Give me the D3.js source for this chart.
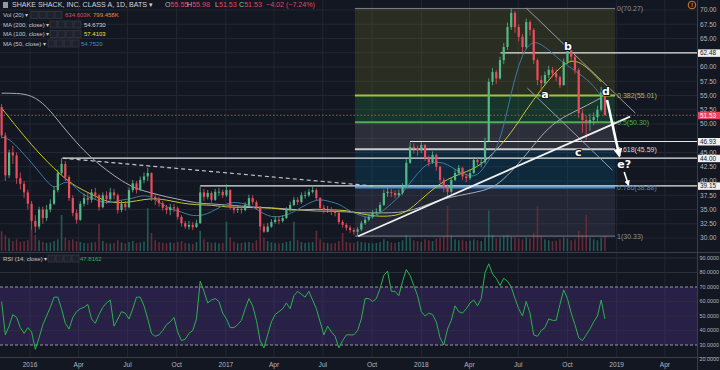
<!DOCTYPE html>
<html>
<head>
<meta charset="utf-8">
<script src="https://cdn.jsdelivr.net/npm/d3@7"></script>
<style>
  body { margin: 0; background: #131722; }
  svg { display: block; font-family: "Liberation Sans", Arial, sans-serif; }
</style>
</head>
<body>
<svg id="chart" width="720" height="370"></svg>
<script>
// weekly candles (open = previous close)
var firstWeek = new Date(2015, 10, 9);
var firstOpen = 53.0;
var closes = [
  48.0, 41.0, 45.0, 44.5, 40.5, 39.5, 38.0, 36.0, 33.0, 32.0,
  35.0, 33.5, 35.0, 36.0, 38.4, 41.4, 43.0, 40.7, 37.0, 34.4,
  33.2, 36.0, 37.0, 36.7, 38.0, 37.5, 35.4, 37.5, 36.8, 38.0,
  37.5, 34.9, 36.0, 35.4, 38.4, 39.6, 38.4, 40.2, 40.8, 41.4,
  37.2, 36.7, 36.1, 35.3, 34.9, 35.4, 35.2, 33.7, 32.6, 32.0,
  32.3, 31.9, 32.6, 38.0, 37.2, 37.9, 36.7, 38.1, 38.1, 37.5,
  38.4, 35.4, 34.9, 35.1, 34.9, 35.8, 37.0, 36.3, 35.5, 32.0,
  31.1, 32.0, 32.8, 33.2, 33.0, 33.5, 34.9, 35.8, 36.7, 36.3,
  37.5, 37.5, 38.1, 38.4, 37.0, 35.3, 34.9, 35.1, 34.6, 34.4,
  32.8, 32.3, 31.8, 31.4, 31.1, 31.5, 32.6, 33.2, 33.7, 34.4,
  34.6, 35.8, 37.9, 38.1, 37.9, 37.5, 37.9, 39.0, 43.2, 46.0,
  45.8, 45.4, 46.3, 44.0, 43.3, 44.6, 42.5, 40.2, 38.8, 38.1,
  40.2, 41.4, 42.3, 40.8, 40.5, 41.4, 43.7, 43.3, 43.3, 47.0,
  57.4, 59.1, 58.0, 61.2, 63.5, 67.0, 69.5, 67.0, 65.3, 63.5,
  67.9, 66.5, 61.2, 57.7, 57.2, 58.6, 59.5, 58.9, 58.2, 56.8,
  60.9, 63.0, 61.8, 59.5, 51.9, 50.7, 50.2, 50.7, 51.2, 52.5,
  55.55, 51.53
];
var highs = [
  53.5, 48.5, 45.5, 46.2, 45.0, 41.5, 40.0, 38.5, 36.5, 34.0,
  35.5, 35.5, 35.8, 36.8, 39.0, 42.0, 44.0, 43.5, 41.0, 37.5,
  35.0, 36.5, 37.8, 38.0, 38.6, 38.8, 37.8, 38.0, 38.2, 38.8,
  38.6, 37.8, 36.6, 36.5, 38.9, 40.2, 40.0, 40.8, 41.5, 42.3,
  41.5, 37.8, 37.2, 36.5, 35.8, 36.0, 36.0, 35.5, 34.0, 33.0,
  33.0, 32.8, 33.2, 39.0, 38.6, 38.4, 38.2, 38.6, 38.8, 38.5,
  39.4, 38.6, 35.8, 35.7, 35.6, 36.3, 37.6, 37.5, 36.6, 35.6,
  32.5, 32.6, 33.3, 33.8, 33.8, 34.0, 35.4, 36.4, 37.2, 37.2,
  38.0, 38.2, 38.6, 39.3, 38.7, 37.2, 35.8, 35.6, 35.4, 35.0,
  34.6, 33.2, 32.6, 32.2, 31.8, 31.9, 33.0, 33.7, 34.2, 34.9,
  35.2, 36.3, 38.5, 38.8, 38.6, 38.4, 38.5, 39.6, 43.8, 46.8,
  46.6, 46.2, 46.8, 46.5, 44.5, 45.2, 44.8, 42.7, 40.6, 39.4,
  40.7, 42.0, 42.8, 42.5, 41.3, 42.0, 44.2, 44.2, 44.0, 47.6,
  58.0, 59.8, 59.5, 61.8, 64.2, 67.8, 70.27, 69.8, 67.5, 65.8,
  68.5, 68.2, 66.8, 61.5, 58.5, 59.2, 60.2, 60.0, 59.6, 58.5,
  61.5, 63.9, 63.4, 62.2, 59.8, 52.6, 51.5, 51.8, 52.0, 53.2,
  56.5, 55.98
];
var lows = [
  47.5, 40.0, 40.5, 43.0, 39.5, 38.5, 37.0, 35.0, 31.5, 30.9,
  31.5, 32.5, 33.0, 34.5, 35.8, 38.0, 41.0, 40.0, 36.5, 33.8,
  32.5, 33.0, 35.5, 35.8, 36.2, 36.8, 34.8, 35.2, 36.0, 36.5,
  36.8, 34.3, 34.5, 34.8, 35.2, 38.0, 37.8, 38.2, 39.6, 40.0,
  36.5, 35.8, 35.5, 34.8, 34.2, 34.0, 34.5, 33.2, 32.0, 31.6,
  31.5, 31.4, 31.8, 32.5, 36.5, 36.8, 36.2, 36.5, 37.4, 37.0,
  37.2, 35.0, 34.3, 34.4, 34.3, 34.7, 35.6, 35.8, 35.0, 31.5,
  30.9, 31.0, 31.8, 32.5, 32.4, 32.7, 33.3, 34.6, 35.6, 35.8,
  36.0, 36.9, 37.2, 37.8, 36.6, 34.8, 34.3, 34.4, 34.0, 33.8,
  32.4, 31.8, 31.3, 30.9, 30.6, 30.3, 31.2, 32.3, 32.9, 33.4,
  34.0, 34.4, 35.6, 37.2, 37.2, 37.0, 37.1, 37.6, 38.8, 43.0,
  44.8, 44.4, 44.9, 43.5, 42.6, 43.0, 41.8, 39.6, 38.0, 37.0,
  37.8, 40.0, 41.0, 40.2, 39.8, 40.2, 41.2, 42.7, 42.4, 43.0,
  52.8, 56.8, 57.0, 57.8, 60.5, 63.0, 66.5, 66.0, 64.5, 62.5,
  63.2, 65.5, 60.5, 56.8, 55.6, 56.8, 58.0, 58.2, 57.5, 56.3,
  56.8, 60.5, 61.0, 58.8, 51.0, 48.5, 47.2, 48.8, 49.8, 50.4,
  52.2, 51.53
];
// relative weekly volume
var volumes = [
  4.4, 3.5, 2.8, 2.2, 2.6, 2.0, 2.2, 2.4, 5.0, 3.6,
  2.4, 2.0, 1.8, 1.9, 2.2, 2.6, 8.0, 3.0, 2.4, 2.6,
  2.2, 2.0, 1.8, 1.7, 1.9, 2.0, 6.0, 2.2, 1.8, 1.7,
  1.8, 2.4, 1.9, 1.7, 2.0, 2.2, 1.8, 1.9, 2.1, 9.5,
  4.0, 2.4, 2.0, 1.8, 1.7, 1.9, 1.8, 2.0, 2.2, 1.8,
  1.7, 1.6, 2.0, 4.5, 2.6, 2.0, 1.8, 1.9, 1.7, 1.8,
  6.5, 3.0, 2.0, 1.7, 1.8, 1.9, 2.0, 1.8, 2.4, 5.0,
  3.0, 2.2, 1.9, 1.8, 1.7, 1.8, 2.0, 2.2, 6.5, 2.4,
  2.0, 1.8, 1.9, 2.0, 4.5, 2.6, 1.9, 1.8, 1.7, 1.8,
  2.2, 4.0, 2.0, 1.9, 1.8, 2.2, 2.0, 1.9, 1.8, 1.7,
  1.8, 2.0, 2.6, 2.2, 1.9, 1.8, 2.0, 2.4, 3.6, 3.0,
  2.4, 2.2, 2.0, 2.6, 2.4, 2.2, 2.8, 3.0, 3.2, 10.0,
  3.4, 2.6, 2.4, 2.5, 2.2, 2.3, 2.6, 2.4, 2.2, 3.0,
  9.0, 3.6, 2.8, 3.0, 3.4, 3.6, 3.2, 3.0, 2.8, 2.6,
  3.0, 2.8, 4.0, 10.0, 3.4, 2.6, 2.4, 2.2, 2.3, 2.6,
  3.0, 2.8, 2.4, 2.6, 4.5, 3.6, 8.0, 3.0, 2.6, 2.4,
  3.0, 3.4
];
var rsiValues = [
  60, 37, 43, 51, 49, 42, 38, 42, 39, 27,
  35, 44, 50, 56, 63, 63, 55, 45, 41, 49,
  53, 55, 56, 58, 48, 45, 51, 56, 59, 61,
  43, 48, 53, 52, 48, 55, 63, 63, 57, 48,
  38, 36, 37, 40, 44, 46, 49, 39, 33, 34,
  38, 40, 48, 74, 67, 59, 61, 62, 60, 52,
  48, 42, 42, 44, 47, 55, 62, 57, 47, 33,
  28, 37, 46, 51, 53, 55, 59, 55, 64, 67,
  65, 63, 67, 61, 55, 46, 37, 43, 39, 36,
  28, 33, 37, 37, 37, 40, 48, 62, 62, 60,
  62, 69, 78, 81, 67, 67, 64, 74, 82, 78,
  71, 64, 53, 50, 52, 51, 46, 35, 30, 41,
  47, 57, 53, 52, 55, 59, 61, 57, 62, 80,
  86, 79, 76, 71, 76, 74, 70, 62, 55, 50,
  60, 52, 37, 36, 40, 42, 48, 47, 47, 58,
  68, 62, 52, 44, 35, 33, 37, 41, 46, 50,
  61, 48
];
// moving averages, every 4th week (200, 100) and every 2nd week (50)
var ma200 = [
  55.4, 55.4, 55.1, 53.2, 49.8, 46.7, 44.0, 41.9, 40.0, 38.6,
  37.9, 37.2, 36.7, 36.1, 36.0, 35.8, 35.6, 35.4, 35.3, 35.1,
  34.9, 34.7, 34.7, 34.6, 34.4, 34.4, 34.4, 34.6, 35.4, 36.5,
  37.2, 37.7, 38.2, 39.1, 41.6, 44.6, 48.0, 50.5, 51.9, 53.2,
  54.6
];
var ma100 = [
  52.8, 49.5, 46.3, 43.5, 40.9, 38.9, 37.7, 36.3, 36.1, 36.5,
  37.0, 36.7, 36.1, 35.8, 35.8, 35.4, 35.4, 35.3, 35.3, 34.9,
  34.9, 35.1, 34.9, 34.9, 34.2, 33.8, 33.8, 34.4, 36.8, 39.1,
  40.7, 41.6, 42.8, 45.4, 48.4, 52.5, 56.1, 59.3, 61.6, 60.2,
  57.4
];
var ma50 = [
  47.7, 47.4, 46.1, 44.7, 43.2, 41.6, 40.0, 38.6, 39.6, 40.0,
  38.6, 37.5, 37.0, 36.5, 36.1, 36.3, 36.7, 36.8, 37.2, 37.5,
  37.2, 36.3, 35.4, 34.9, 34.6, 34.0, 33.9, 34.0, 34.6, 35.3,
  36.0, 36.3, 36.1, 35.8, 35.1, 34.2, 33.7, 33.7, 34.0, 34.6,
  35.4, 36.1, 36.7, 36.7, 36.3, 36.0, 35.1, 34.4, 33.9, 33.5,
  33.9, 34.9, 36.0, 37.2, 38.8, 40.5, 42.1, 43.2, 43.3, 43.2,
  42.5, 41.6, 41.1, 40.7, 41.6, 43.7, 45.5, 49.5, 55.5, 60.5,
  63.5, 64.5, 64.0, 63.0, 61.8, 60.7, 59.8, 58.9, 57.9, 56.7,
  54.9
];

var tickDates = ["2016-01-01","2016-04-01","2016-07-01","2016-10-01","2017-01-01","2017-04-01","2017-07-01",
  "2017-10-01","2018-01-01","2018-04-01","2018-07-01","2018-10-01","2019-01-01","2019-04-01"];
var tickLabels = ["2016","Apr","Jul","Oct","2017","Apr","Jul","Oct","2018","Apr","Jul","Oct","2019","Apr"];
var priceTicks = [30,32.5,35,37.5,40,42.5,45,47.5,50,52.5,55,57.5,60,62.5,65,67.5,70];
var rsiTicks = [20,30,40,50,60,70,80,90];

var fibTop = 70.27, fibBottom = 30.33;
var fibStart = "2017-08-30", fibEnd = "2018-12-29";
var fibLevels = [0, 0.382, 0.5, 0.618, 0.786, 1];
var fibLabels = ["0(70.27)","0.382(55.01)","0.5(50.30)","0.618(45.59)","0.786(38.88)","1(30.33)"];
var fibLineColors = ["#7d808b","#a3c43a","#4caf50","#c8cad0","#3b8fd6","#7d808b"];
var fibTextColors = ["#8a8d97","#a8c43c","#4caf50","#d6d8de","#3b8fd6","#8a8d97"];
var fibFills = ["rgba(134,133,34,0.2)","rgba(39,173,79,0.2)","rgba(144,143,154,0.2)","rgba(4,108,154,0.22)","rgba(119,130,167,0.15)"];

var levelPrices = [62.48, 46.93, 44.00, 39.15];
var levelStarts = ["2018-05-29","2017-12-11","2016-03-02","2016-11-14"];
var lastPrice = 51.53;

// drawn lines [date, price] pairs
var upTrend = [["2017-09-05", 30.3], ["2019-01-26", 51.3]];
var downTrendB = [["2018-07-16", 70.35], ["2019-02-05", 51.9]];
var downTrendA = [["2018-07-18", 56.3], ["2018-12-24", 41.9]];
var dashedTrend = [["2016-03-02", 44.0], ["2017-10-07", 39.1]];
var bigArrow = [["2018-12-14", 54.2], ["2019-01-06", 44.4]];
var smallArrow = [["2019-01-15", 41.6], ["2019-01-23", 39.3]];
var waveNames = ["a","b","c","d","e?"];
var waveDates = ["2018-08-20","2018-10-02","2018-10-21","2018-12-12","2019-01-15"];
var wavePrices = [55.3, 63.7, 45.1, 55.8, 43.0];

var parse = d3.timeParse("%Y-%m-%d");
var svg = d3.select("#chart");
var W = 720, H = 370, plotRight = 697;
var mainBottom = 252, rsiBottom = 357;

var x = d3.scaleTime().domain([new Date(2015, 10, 6), new Date(2019, 4, 31)]).range([0, plotRight]);
var y = d3.scaleLinear().domain([30, 70]).range([238, 10]);
var yVol = d3.scaleLinear().domain([0, 10]).range([251, 206]);
var yRsi = d3.scaleLinear().domain([30, 70]).range([345, 287]);

var dates = closes.map(function(c, i) { return d3.timeDay.offset(firstWeek, 7 * i); });
var opens = closes.map(function(c, i) { return i === 0 ? firstOpen : closes[i - 1]; });
var ma4Dates = dates.filter(function(d, i) { return i % 4 === 0; });
var ma2Dates = dates.filter(function(d, i) { return i % 2 === 0; });

var green = "#53b987", red = "#eb4d5c";

svg.append("rect").attr("width", W).attr("height", H).attr("fill", "#131722");

var defs = svg.append("defs");
defs.append("clipPath").attr("id", "mainClip").append("rect")
  .attr("x", 0).attr("y", 0).attr("width", plotRight).attr("height", mainBottom);
defs.append("clipPath").attr("id", "rsiClip").append("rect")
  .attr("x", 0).attr("y", mainBottom).attr("width", plotRight).attr("height", rsiBottom - mainBottom);
defs.append("marker").attr("id", "arrowHead").attr("viewBox", "0 0 10 10")
  .attr("refX", 8).attr("refY", 5).attr("markerWidth", 3.5).attr("markerHeight", 3.5)
  .attr("orient", "auto").append("path").attr("d", "M0,0 L10,5 L0,10 z").attr("fill", "#ffffff");

// grid
var grid = svg.append("g");
grid.selectAll(".vg").data(tickDates).join("line")
  .attr("x1", function(d) { return x(parse(d)); }).attr("x2", function(d) { return x(parse(d)); })
  .attr("y1", 0).attr("y2", rsiBottom).attr("stroke", "#232733").attr("stroke-width", 1);
grid.selectAll(".hg").data(priceTicks).join("line")
  .attr("x1", 0).attr("x2", plotRight)
  .attr("y1", function(d) { return y(d); }).attr("y2", function(d) { return y(d); })
  .attr("stroke", "#232733");

var main = svg.append("g").attr("clip-path", "url(#mainClip)");

// fib fills
var fibPrice = function(l) { return fibTop - l * (fibTop - fibBottom); };
main.selectAll(".fibfill").data(fibFills).join("rect")
  .attr("x", x(parse(fibStart)))
  .attr("width", x(parse(fibEnd)) - x(parse(fibStart)))
  .attr("y", function(d, i) { return y(fibPrice(fibLevels[i])); })
  .attr("height", function(d, i) { return y(fibPrice(fibLevels[i + 1])) - y(fibPrice(fibLevels[i])); })
  .attr("fill", function(d) { return d; });

// volume
main.selectAll(".vol").data(volumes).join("rect")
  .attr("x", function(d, i) { return x(dates[i]) - 0.8; })
  .attr("width", 1.6)
  .attr("y", function(d) { return yVol(d); })
  .attr("height", function(d) { return yVol(0) - yVol(d); })
  .attr("fill", function(d, i) { return closes[i] >= opens[i] ? "#225a57" : "#682a39"; });

// fib lines
main.selectAll(".fibline").data(fibLevels).join("line")
  .attr("x1", x(parse(fibStart))).attr("x2", x(parse(fibEnd)))
  .attr("y1", function(d) { return y(fibPrice(d)); }).attr("y2", function(d) { return y(fibPrice(d)); })
  .attr("stroke", function(d, i) { return fibLineColors[i]; })
  .attr("stroke-width", function(d, i) { return (i === 0 || i === 5) ? 1 : 2; });

// horizontal levels
main.selectAll(".lvl").data(levelPrices).join("line")
  .attr("x1", function(d, i) { return x(parse(levelStarts[i])); }).attr("x2", plotRight)
  .attr("y1", function(d) { return y(d); }).attr("y2", function(d) { return y(d); })
  .attr("stroke", "#e6e6e6").attr("stroke-width", 1.2);

// last price dotted
main.append("line").attr("x1", 0).attr("x2", plotRight)
  .attr("y1", y(lastPrice)).attr("y2", y(lastPrice))
  .attr("stroke", "#c9485a").attr("stroke-dasharray", "1.5,2");

// moving averages
var maLine = function(ds) {
  return d3.line().x(function(d, i) { return x(ds[i]); }).y(function(d) { return y(d); }).curve(d3.curveBasis);
};
main.append("path").attr("d", maLine(ma4Dates)(ma200)).attr("fill", "none").attr("stroke", "#a9abb3").attr("stroke-width", 1);
main.append("path").attr("d", maLine(ma4Dates)(ma100)).attr("fill", "none").attr("stroke", "#c9c52e").attr("stroke-width", 1);
main.append("path").attr("d", maLine(ma2Dates)(ma50)).attr("fill", "none").attr("stroke", "#3b7ba3").attr("stroke-width", 1);

// candles
var candles = main.append("g");
candles.selectAll(".wick").data(closes).join("line")
  .attr("x1", function(d, i) { return x(dates[i]); }).attr("x2", function(d, i) { return x(dates[i]); })
  .attr("y1", function(d, i) { return y(highs[i]); }).attr("y2", function(d, i) { return y(lows[i]); })
  .attr("stroke", function(d, i) { return d >= opens[i] ? green : red; }).attr("stroke-width", 0.8);
candles.selectAll(".body").data(closes).join("rect")
  .attr("x", function(d, i) { return x(dates[i]) - 1.1; })
  .attr("width", 2.2)
  .attr("y", function(d, i) { return y(Math.max(d, opens[i])); })
  .attr("height", function(d, i) { return Math.max(0.8, Math.abs(y(d) - y(opens[i]))); })
  .attr("fill", function(d, i) { return d >= opens[i] ? green : red; });

// drawings
var seg = function(pts) {
  return d3.line().x(function(p) { return x(parse(p[0])); }).y(function(p) { return y(p[1]); })(pts);
};
main.append("path").attr("d", seg(dashedTrend)).attr("stroke", "#c4c6cc").attr("stroke-width", 1.2)
  .attr("stroke-dasharray", "4,3").attr("fill", "none");
main.append("path").attr("d", seg(downTrendB)).attr("stroke", "#9a9ca4").attr("stroke-width", 1).attr("fill", "none");
main.append("path").attr("d", seg(downTrendA)).attr("stroke", "#9a9ca4").attr("stroke-width", 1).attr("fill", "none");
main.append("path").attr("d", seg(upTrend)).attr("stroke", "#f0f0f0").attr("stroke-width", 1.8).attr("fill", "none");

// fib labels
main.selectAll(".fibtxt").data(fibLabels).join("text")
  .attr("x", x(parse(fibEnd)) + 2)
  .attr("y", function(d, i) { return y(fibPrice(fibLevels[i])); })
  .attr("dy", "0.35em").attr("font-size", 7)
  .attr("fill", function(d, i) { return fibTextColors[i]; })
  .text(function(d) { return d; });

main.append("path").attr("d", seg(bigArrow)).attr("stroke", "#ffffff").attr("stroke-width", 2.6)
  .attr("fill", "none").attr("marker-end", "url(#arrowHead)");
main.append("path").attr("d", seg(smallArrow)).attr("stroke", "#ffffff").attr("stroke-width", 1.6)
  .attr("fill", "none").attr("marker-end", "url(#arrowHead)");

main.selectAll(".wave").data(waveNames).join("text")
  .attr("x", function(d, i) { return x(parse(waveDates[i])); })
  .attr("y", function(d, i) { return y(wavePrices[i]); })
  .attr("dy", "0.35em").attr("text-anchor", "middle")
  .attr("font-family", "DejaVu Sans, sans-serif").attr("font-weight", "bold").attr("font-size", 11)
  .attr("fill", "#ffffff").attr("stroke", "#131722").attr("stroke-width", 2.2)
  .attr("paint-order", "stroke")
  .text(function(d) { return d; });

// RSI pane
var rsiG = svg.append("g").attr("clip-path", "url(#rsiClip)");
rsiG.append("rect").attr("x", 0).attr("width", plotRight)
  .attr("y", yRsi(70)).attr("height", yRsi(30) - yRsi(70)).attr("fill", "rgba(103,58,183,0.25)");
rsiG.selectAll(".rg").data(rsiTicks.filter(function(t) { return t !== 30 && t !== 70; })).join("line")
  .attr("x1", 0).attr("x2", plotRight)
  .attr("y1", function(d) { return yRsi(d); }).attr("y2", function(d) { return yRsi(d); })
  .attr("stroke", "#2a2d3a");
rsiG.selectAll(".rb").data([70, 30]).join("line")
  .attr("x1", 0).attr("x2", plotRight)
  .attr("y1", function(d) { return yRsi(d); }).attr("y2", function(d) { return yRsi(d); })
  .attr("stroke", "#9598a1").attr("stroke-dasharray", "3,2");
rsiG.append("path")
  .attr("d", d3.line().x(function(d, i) { return x(dates[i]); }).y(function(d) { return yRsi(d); })(rsiValues))
  .attr("fill", "none").attr("stroke", "#2bb24c").attr("stroke-width", 1);

// pane borders
svg.append("line").attr("x1", 0).attr("x2", W).attr("y1", mainBottom + 0.5).attr("y2", mainBottom + 0.5).attr("stroke", "#3a3e4a");
svg.append("line").attr("x1", 0).attr("x2", W).attr("y1", rsiBottom + 0.5).attr("y2", rsiBottom + 0.5).attr("stroke", "#3a3e4a");
svg.append("line").attr("x1", plotRight + 0.5).attr("x2", plotRight + 0.5).attr("y1", 0).attr("y2", H).attr("stroke", "#3a3e4a");

// price boxes data
var boxes = levelPrices.map(function(p) { return { p: p, bg: "#f0f0f0", fg: "#131722" }; });
boxes.push({ p: lastPrice, bg: "#e0475a", fg: "#ffffff" });

// axes
var axisG = svg.append("g").attr("font-size", 6.6).attr("fill", "#b2b5be");
var freeTicks = priceTicks.filter(function(t) {
  return boxes.every(function(b) { return Math.abs(y(t) - y(b.p)) > 4.2; });
});
axisG.selectAll(".pt").data(freeTicks).join("text")
  .attr("x", plotRight + 3)
  .attr("y", function(d) { return y(d); }).attr("dy", "0.35em")
  .text(function(d) { return d3.format(".2f")(d); });
axisG.selectAll(".rt").data(rsiTicks).join("text")
  .attr("x", plotRight + 2.5).attr("y", function(d) { return yRsi(d); }).attr("dy", "0.35em")
  .attr("font-size", 5.4)
  .text(function(d) { return d3.format(".4f")(d); });
axisG.selectAll(".xt").data(tickDates).join("text")
  .attr("x", function(d) { return x(parse(d)); }).attr("y", 365).attr("dy", "0.35em")
  .attr("text-anchor", "middle")
  .text(function(d, i) { return tickLabels[i]; });

var bx = svg.selectAll(".pbox").data(boxes).join("g")
  .attr("transform", function(d) { return "translate(" + (plotRight + 1) + "," + y(d.p) + ")"; });
bx.append("rect").attr("x", 0).attr("y", -3.5).attr("width", W - plotRight - 1).attr("height", 7.5)
  .attr("fill", function(d) { return d.bg; });
bx.append("text").attr("x", 2).attr("dy", "0.38em").attr("font-size", 6.4)
  .attr("fill", function(d) { return d.fg; })
  .text(function(d) { return d3.format(".2f")(d.p); });

// header + legend
var head = svg.append("g").attr("font-size", 7.1);
head.append("rect").attr("x", 3).attr("y", 2).attr("width", 5).attr("height", 6).attr("fill", "#9598a1");
head.append("text").attr("x", 12).attr("y", 5).attr("dy", "0.35em").attr("fill", "#d1d4dc")
  .text("SHAKE SHACK, INC. CLASS A, 1D, BATS ▾");
var ohlc = [["O", "55.55", 165], ["H", "55.98", 187], ["L", "51.53", 215], ["C", "51.53", 239]];
ohlc.forEach(function(o) {
  var t = head.append("text").attr("x", o[2]).attr("y", 5).attr("dy", "0.35em");
  t.append("tspan").attr("fill", "#b2b5be").text(o[0]);
  t.append("tspan").attr("fill", "#e0475a").text(o[1]);
});
head.append("text").attr("x", 266).attr("y", 5).attr("dy", "0.35em").attr("fill", "#e0475a").text("−4.02 (−7.24%)");

function iconBoxes(g, x0, yc) {
  g.selectAll(null).data([0, 1, 2, 3]).join("rect")
    .attr("x", function(d) { return x0 + d * 8; }).attr("y", yc - 3.5)
    .attr("width", 7).attr("height", 7)
    .attr("fill", "#1e222d").attr("stroke", "#3d414d").attr("stroke-width", 0.6);
}
var legendRows = [
  { label: "Vol (20) ▾", yc: 15, bx: 31, vals: [["634.603K", "#e0475a", 65], ["799.458K", "#e88a3a", 93]] },
  { label: "MA (200, close) ▾", yc: 24.5, bx: 50, vals: [["54.6730", "#d1d4dc", 84]] },
  { label: "MA (100, close) ▾", yc: 34, bx: 50, vals: [["57.4103", "#e6e62e", 84]] },
  { label: "MA (50, close) ▾", yc: 43.5, bx: 48, vals: [["54.7520", "#4a8fc0", 81]] },
  { label: "RSI (14, close) ▾", yc: 258.5, bx: 48, vals: [["47.8162", "#2bb24c", 80]] }
];
legendRows.forEach(function(r) {
  var g = head.append("g");
  g.append("text").attr("x", 3).attr("y", r.yc).attr("dy", "0.35em").attr("fill", "#c3c6ce").attr("font-size", 6).text(r.label);
  iconBoxes(g, r.bx, r.yc);
  r.vals.forEach(function(v) {
    g.append("text").attr("x", v[2]).attr("y", r.yc).attr("dy", "0.35em").attr("font-size", 6).attr("fill", v[1]).text(v[0]);
  });
});

// alert icon
svg.append("circle").attr("cx", 692).attr("cy", 5).attr("r", 3.8).attr("fill", "none").attr("stroke", "#f08a24").attr("stroke-width", 0.9);
svg.append("text").attr("x", 692).attr("y", 5).attr("dy", "0.35em").attr("text-anchor", "middle")
  .attr("font-size", 6).attr("font-weight", "bold").attr("fill", "#f08a24").text("!");
</script>
</body>
</html>
